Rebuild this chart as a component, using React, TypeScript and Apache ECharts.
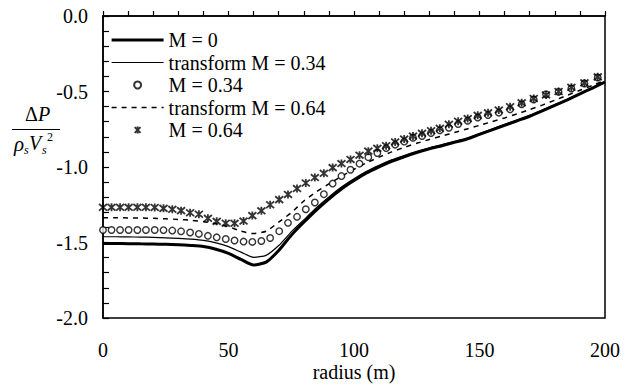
import React, { useEffect, useRef } from "react";
import * as echarts from "echarts";

// Radius grid of the continuous curves (m)
const lineRadius = [
  0, 5, 10, 15, 20, 25, 30, 35, 40, 45, 50, 55, 60, 65, 70, 75, 80, 85, 90, 95, 100,
  105, 110, 115, 120, 125, 130, 135, 140, 145, 150, 155, 160, 165, 170, 175, 180, 185, 190, 195, 200,
];

// M = 0 (thick solid)
const m0Values = [
  -1.507, -1.507, -1.508, -1.509, -1.51, -1.512, -1.515, -1.52, -1.527, -1.545, -1.572,
  -1.612, -1.649, -1.63, -1.553, -1.452, -1.366, -1.285, -1.212, -1.146, -1.09,
  -1.04, -0.999, -0.962, -0.932, -0.905, -0.88, -0.859, -0.837, -0.815, -0.784,
  -0.754, -0.724, -0.694, -0.664, -0.629, -0.592, -0.555, -0.516, -0.477, -0.437,
];

// transform M = 0.34 (thin solid)
const transform034Values = [
  -1.462, -1.462, -1.463, -1.464, -1.466, -1.469, -1.473, -1.478, -1.486, -1.502, -1.527,
  -1.564, -1.598, -1.585, -1.52, -1.43, -1.35, -1.27, -1.198, -1.133, -1.078,
  -1.029, -0.989, -0.953, -0.924, -0.897, -0.873, -0.852, -0.83, -0.808, -0.778,
  -0.748, -0.718, -0.688, -0.658, -0.623, -0.587, -0.551, -0.513, -0.475, -0.436,
];

// transform M = 0.64 (dashed)
const transform064Values = [
  -1.336, -1.336, -1.337, -1.338, -1.34, -1.343, -1.347, -1.353, -1.362, -1.376, -1.395,
  -1.425, -1.441, -1.425, -1.365, -1.303, -1.225, -1.165, -1.112, -1.062, -1.015,
  -0.972, -0.935, -0.9, -0.87, -0.843, -0.818, -0.795, -0.772, -0.748, -0.724,
  -0.7, -0.675, -0.648, -0.62, -0.59, -0.558, -0.525, -0.492, -0.46, -0.425,
];

// Radius of the computed points (m)
const markerRadius = [
  0, 3.4, 6.8, 10.2, 13.7, 17.1, 20.6, 24.1, 27.6, 31.1, 34.7, 38.2, 41.8, 45.3, 48.9,
  52.4, 56.0, 59.5, 63.1, 66.6, 70.2, 73.7, 77.3, 80.8, 84.4, 88.0, 91.5, 95.0, 98.6,
  102.2, 105.7, 109.3, 112.8, 116.4, 120.0, 123.5, 127.1, 130.7, 134.2, 137.8, 141.5,
  145.3, 149.3, 153.4, 157.7, 162.2, 166.8, 171.6, 176.5, 181.5, 186.6, 191.8, 197.1,
];

// M = 0.34 (circles)
const m034Values = [
  -1.417, -1.417, -1.417, -1.417, -1.417, -1.417, -1.417, -1.418, -1.421, -1.426, -1.434,
  -1.443, -1.456, -1.466, -1.477, -1.487, -1.494, -1.496, -1.49, -1.47, -1.425, -1.37,
  -1.33, -1.28, -1.235, -1.18, -1.11, -1.06, -1.018, -0.978, -0.935, -0.908, -0.875,
  -0.852, -0.832, -0.806, -0.795, -0.775, -0.757, -0.74, -0.716, -0.694, -0.672,
  -0.656, -0.64, -0.618, -0.585, -0.553, -0.518, -0.502, -0.48, -0.447, -0.407,
];

// M = 0.64 (stars)
const m064Values = [
  -1.267, -1.267, -1.267, -1.267, -1.267, -1.267, -1.268, -1.274, -1.28, -1.289, -1.303,
  -1.313, -1.34, -1.36, -1.372, -1.373, -1.358, -1.322, -1.29, -1.25, -1.216, -1.182,
  -1.143, -1.106, -1.07, -1.042, -1.004, -0.977, -0.95, -0.922, -0.895, -0.876, -0.859,
  -0.834, -0.815, -0.795, -0.777, -0.76, -0.744, -0.717, -0.697, -0.679, -0.658,
  -0.641, -0.623, -0.601, -0.575, -0.546, -0.523, -0.5, -0.472, -0.443, -0.403,
];

const seriesNames = ["M = 0", "transform M = 0.34", "M = 0.34", "transform M = 0.64", "M = 0.64"];

const FONT = "Liberation Serif";

function zip(xs: number[], ys: number[]) {
  return xs.map((x, i) => [x, ys[i]]);
}

export default function App() {
  const ref = useRef<HTMLDivElement>(null);

  useEffect(() => {
    const chart = echarts.init(ref.current!, null, { renderer: "svg" });
    const starPath = "path://M0,0L10,10M10,0L0,10M5,-1L5,11";
    const noSymbol = { color: "rgba(0,0,0,0)", borderColor: "rgba(0,0,0,0)", borderWidth: 0 };

    chart.setOption({
      animation: false,
      backgroundColor: "#fff",
      textStyle: { fontFamily: FONT },
      grid: {
        left: 103,
        right: 24,
        top: 16,
        bottom: 67,
        show: true,
        borderColor: "#000",
        borderWidth: 1.5,
        backgroundColor: "transparent",
        containLabel: false,
        outerBoundsMode: "none",
      },
      xAxis: {
        type: "value",
        min: 0,
        max: 200,
        interval: 50,
        name: "radius (m)",
        nameLocation: "middle",
        nameGap: 44,
        nameMoveOverlap: false,
        nameTextStyle: { fontFamily: FONT, fontSize: 20, color: "#000" },
        axisLine: { show: true, lineStyle: { color: "#000", width: 1.5 } },
        axisTick: { show: true, inside: true, length: 5, lineStyle: { color: "#000", width: 1.2 } },
        minorTick: { show: true, splitNumber: 5, length: 5, lineStyle: { color: "#000", width: 1.2 } },
        splitLine: { show: false },
        axisLabel: { fontFamily: FONT, fontSize: 20, color: "#000", margin: 22 },
      },
      yAxis: {
        type: "value",
        min: -2,
        max: 0,
        interval: 0.5,
        axisLine: { show: true, lineStyle: { color: "#000", width: 1.5 } },
        axisTick: { show: true, inside: true, length: 6, lineStyle: { color: "#000", width: 1.2 } },
        minorTick: { show: true, splitNumber: 5, length: 6, lineStyle: { color: "#000", width: 1.2 } },
        splitLine: { show: false },
        axisLabel: {
          fontFamily: FONT,
          fontSize: 20,
          color: "#000",
          margin: 15,
          formatter: (v: number) => (Math.abs(v) < 1e-9 ? "0.0" : v.toFixed(1)),
        },
      },
      legend: {
        orient: "vertical",
        left: 110,
        top: 30,
        padding: 0,
        itemWidth: 52,
        itemHeight: 7,
        itemGap: 2.5,
        data: [
          { name: seriesNames[0], itemStyle: noSymbol, lineStyle: { color: "#000", width: 3.2 } },
          { name: seriesNames[1], itemStyle: noSymbol, lineStyle: { color: "#000", width: 1.2 } },
          { name: seriesNames[2] },
          { name: seriesNames[3], itemStyle: noSymbol, lineStyle: { color: "#000", width: 1.5, type: [5, 5] } },
          { name: seriesNames[4] },
        ],
        textStyle: { fontFamily: FONT, fontSize: 20, color: "#000", lineHeight: 20 },
      },
      graphic: [
        {
          type: "text",
          x: 25,
          y: 104,
          style: { text: "Δ", fontFamily: FONT, fontSize: 20, fill: "#000" },
        },
        {
          type: "text",
          x: 38,
          y: 104,
          style: { text: "P", fontFamily: FONT, fontSize: 20, fontStyle: "italic", fill: "#000" },
        },
        {
          type: "line",
          shape: { x1: 12, y1: 129.5, x2: 60, y2: 129.5 },
          style: { stroke: "#000", lineWidth: 1 },
        },
        {
          type: "text",
          x: 14,
          y: 133,
          style: { text: "ρ", fontFamily: FONT, fontSize: 21, fontStyle: "italic", fill: "#000" },
        },
        {
          type: "text",
          x: 24,
          y: 144,
          style: { text: "s", fontFamily: FONT, fontSize: 12, fontStyle: "italic", fill: "#000" },
        },
        {
          type: "text",
          x: 29,
          y: 133,
          style: { text: "V", fontFamily: FONT, fontSize: 20, fontStyle: "italic", fill: "#000" },
        },
        {
          type: "text",
          x: 42,
          y: 144,
          style: { text: "s", fontFamily: FONT, fontSize: 12, fontStyle: "italic", fill: "#000" },
        },
        {
          type: "text",
          x: 47,
          y: 131,
          style: { text: "2", fontFamily: FONT, fontSize: 12, fill: "#000" },
        },
      ],
      series: [
        {
          name: seriesNames[0],
          type: "line",
          data: zip(lineRadius, m0Values),
          symbol: "none",
          smooth: 0.2,
          lineStyle: { color: "#000", width: 3 },
          itemStyle: { color: "#000" },
          z: 2,
        },
        {
          name: seriesNames[1],
          type: "line",
          data: zip(lineRadius, transform034Values),
          symbol: "none",
          smooth: 0.2,
          lineStyle: { color: "#000", width: 1.2 },
          itemStyle: { color: "#000" },
          z: 2,
        },
        {
          name: seriesNames[2],
          type: "scatter",
          data: zip(markerRadius, m034Values),
          symbol: "circle",
          symbolSize: 6.5,
          itemStyle: { color: "#fff", borderColor: "#000", borderWidth: 1.4 },
          z: 3,
        },
        {
          name: seriesNames[3],
          type: "line",
          data: zip(lineRadius, transform064Values),
          symbol: "none",
          smooth: 0.2,
          lineStyle: { color: "#000", width: 1.5, type: [5, 5] },
          itemStyle: { color: "#000" },
          z: 2,
        },
        {
          name: seriesNames[4],
          type: "scatter",
          data: zip(markerRadius, m064Values),
          symbol: starPath,
          symbolSize: 8,
          itemStyle: { color: "rgba(0,0,0,0)", borderColor: "#000", borderWidth: 1.8 },
          z: 4,
        },
      ],
    });

    return () => chart.dispose();
  }, []);

  return (
    <div
      ref={ref}
      style={{ position: "absolute", left: 0, top: 0, width: 629, height: 385, background: "#fff" }}
    />
  );
}
